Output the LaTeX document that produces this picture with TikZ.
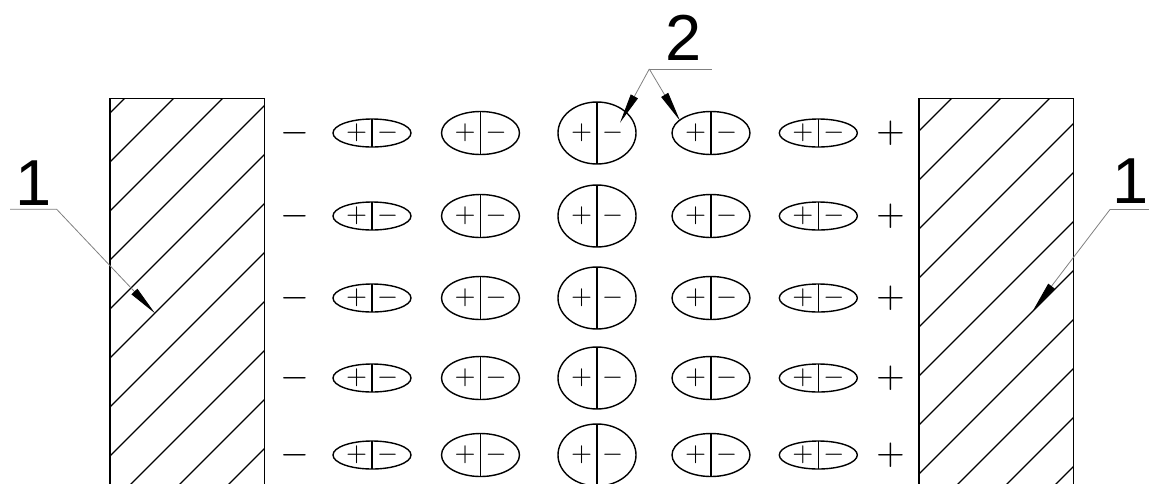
\documentclass[tikz,border=0pt]{standalone}
\usepackage{fontspec}
\newfontfamily\labfont{Liberation Sans}
\usetikzlibrary{arrows.meta}
\begin{document}
\begin{tikzpicture}[x=1pt,y=-1pt,
  wall/.style={line width=1.5pt},
  hatch/.style={line width=1.2pt},
  dip/.style={line width=1.4pt},
  sgn/.style={inner sep=0pt,anchor=center,font=\fontsize{10}{12}\selectfont,scale=2.7},
  outsgn/.style={inner sep=0pt,anchor=center,font=\fontsize{10}{12}\selectfont,scale=3.7},
  lab/.style={inner sep=0pt,anchor=base,font=\labfont\fontsize{65}{70}\selectfont},
  leader/.style={gray,line width=0.8pt},
  tipped/.style={-{Triangle[length=30pt,width=8pt,color=black]}}
]
\useasboundingbox (0,0) rectangle (1149,483);

% left wall
\begin{scope}
  \clip (110,98.3) rectangle (264.3,490);
  \foreach \k in {0,...,11} \draw[hatch] ({223+49*\k-700},700) -- ({223+49*\k},0);
\end{scope}
\draw[wall] (110,490) -- (110,98.3) -- (264.3,98.3) -- (264.3,490);

% right wall
\begin{scope}
  \clip (919,98.3) rectangle (1073.5,490);
  \foreach \k in {0,...,11} \draw[hatch] ({1050+49*\k-700},700) -- ({1050+49*\k},0);
\end{scope}
\draw[wall] (919,490) -- (919,98.3) -- (1073.5,98.3) -- (1073.5,490);

% dipoles
\foreach \y [count=\r] in {133,216,298,378,455} {
  \node[outsgn] (m\r) at (294.7,\y) {$-$};
  \node[outsgn] (p\r) at (890.5,\y) {$+$};
  \foreach \x/\ry [count=\c] in {372/14,480.5/21.5,597/31,711/21.5,818.3/14} {
    \draw[dip] (\x,\y) ellipse [x radius=39, y radius=\ry];
    \draw[dip] (\x,\y-\ry) -- (\x,\y+\ry);
    \node[sgn] (a\r\c) at (\x-15.5,\y) {$+$};
    \node[sgn] (b\r\c) at (\x+15.5,\y) {$-$};
  }
}

% labels
\node[lab] (L1) at (33.5,205) {1};
\node[lab] (R1) at (1130.5,203.3) {1};
\node[lab] (N2) at (684,60) {2};

% leaders
\coordinate (l1s) at (10,209.3);
\coordinate (l1k) at (56.7,209.3);
\coordinate (l1t) at (155,313.3);
\draw[leader,tipped] (l1s) -- (l1k) -- (l1t);

\coordinate (r1s) at (1149,209.5);
\coordinate (r1k) at (1110,209.5);
\coordinate (r1t) at (1033.3,310);
\draw[leader,tipped] (r1s) -- (r1k) -- (r1t);

\coordinate (n2s) at (711.7,69);
\coordinate (n2k) at (649.3,69);
\coordinate (n2a) at (620,122.7);
\coordinate (n2b) at (680,120.7);
\draw[leader] (n2s) -- (n2k);
\draw[leader,tipped] (n2k) -- (n2a);
\draw[leader,tipped] (n2k) -- (n2b);
\end{tikzpicture}
\end{document}
